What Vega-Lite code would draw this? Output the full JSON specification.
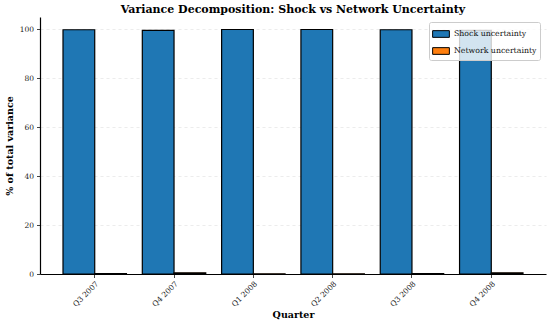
{
  "$schema": "https://vega.github.io/schema/vega-lite/v6.json",
  "width": 506,
  "height": 257,
  "autosize": {"type": "none"},
  "padding": {"left": 40, "top": 17, "right": 4, "bottom": 52},
  "background": "white",
  "title": {
    "text": "Variance Decomposition: Shock vs Network Uncertainty",
    "font": "DejaVu Serif",
    "fontSize": 11,
    "fontWeight": "bold",
    "color": "black",
    "anchor": "middle",
    "offset": 2
  },
  "config": {
    "view": {"stroke": null},
    "font": "DejaVu Serif"
  },
  "data": {
    "values": [
      {"quarter": "Q3 2007", "component": "Shock uncertainty", "value": 99.8},
      {"quarter": "Q3 2007", "component": "Network uncertainty", "value": 0.2},
      {"quarter": "Q4 2007", "component": "Shock uncertainty", "value": 99.5},
      {"quarter": "Q4 2007", "component": "Network uncertainty", "value": 0.5},
      {"quarter": "Q1 2008", "component": "Shock uncertainty", "value": 99.9},
      {"quarter": "Q1 2008", "component": "Network uncertainty", "value": 0.1},
      {"quarter": "Q2 2008", "component": "Shock uncertainty", "value": 99.9},
      {"quarter": "Q2 2008", "component": "Network uncertainty", "value": 0.1},
      {"quarter": "Q3 2008", "component": "Shock uncertainty", "value": 99.8},
      {"quarter": "Q3 2008", "component": "Network uncertainty", "value": 0.2},
      {"quarter": "Q4 2008", "component": "Shock uncertainty", "value": 99.5},
      {"quarter": "Q4 2008", "component": "Network uncertainty", "value": 0.5}
    ]
  },
  "mark": {"type": "bar", "stroke": "black", "strokeWidth": 1.2, "opacity": 1},
  "encoding": {
    "x": {
      "field": "quarter",
      "type": "nominal",
      "sort": null,
      "scale": {"paddingInner": 0.2, "paddingOuter": 0.29},
      "axis": {
        "title": "Quarter",
        "titleFont": "DejaVu Serif",
        "titleFontSize": 9.5,
        "titleFontWeight": "bold",
        "titleColor": "black",
        "titlePadding": 2,
        "labelAngle": -45,
        "labelAlign": "right",
        "labelBaseline": "top",
        "labelFont": "DejaVu Serif",
        "labelFontSize": 7.5,
        "labelColor": "#222",
        "labelPadding": 2,
        "domainColor": "black",
        "domainWidth": 1.2,
        "tickColor": "#444",
        "tickSize": 3.5,
        "tickBand": "center",
        "grid": false
      }
    },
    "xOffset": {
      "field": "component",
      "type": "nominal",
      "sort": ["Shock uncertainty", "Network uncertainty"],
      "scale": {"paddingInner": 0, "paddingOuter": 0}
    },
    "y": {
      "field": "value",
      "type": "quantitative",
      "scale": {"domain": [0, 105], "nice": false},
      "axis": {
        "title": "% of total variance",
        "titleFont": "DejaVu Serif",
        "titleFontSize": 9.5,
        "titleFontWeight": "bold",
        "titleColor": "black",
        "titlePadding": 5,
        "values": [0, 20, 40, 60, 80, 100],
        "labelFont": "DejaVu Serif",
        "labelFontSize": 7.5,
        "labelColor": "#222",
        "labelPadding": 3,
        "domainColor": "black",
        "domainWidth": 1.2,
        "tickColor": "#444",
        "tickSize": 3.5,
        "grid": true,
        "gridColor": "#e4e4e4",
        "gridDash": [3, 3],
        "gridWidth": 0.7
      }
    },
    "color": {
      "field": "component",
      "type": "nominal",
      "sort": ["Shock uncertainty", "Network uncertainty"],
      "scale": {"domain": ["Shock uncertainty", "Network uncertainty"], "range": ["#1f77b4", "#ff7f0e"]},
      "legend": {
        "title": null,
        "orient": "none",
        "legendX": 389,
        "legendY": 5,
        "direction": "vertical",
        "fillColor": "rgba(255,255,255,0.8)",
        "strokeColor": "#cccccc",
        "cornerRadius": 2,
        "padding": 3,
        "rowPadding": 2,
        "symbolType": "M-1,-0.4h2v0.8h-2z",
        "symbolSize": 280,
        "symbolStrokeColor": "black",
        "symbolStrokeWidth": 1,
        "symbolOpacity": 1,
        "labelFont": "DejaVu Serif",
        "labelFontSize": 7.8,
        "labelColor": "#111",
        "labelOffset": 4
      }
    }
  }
}
